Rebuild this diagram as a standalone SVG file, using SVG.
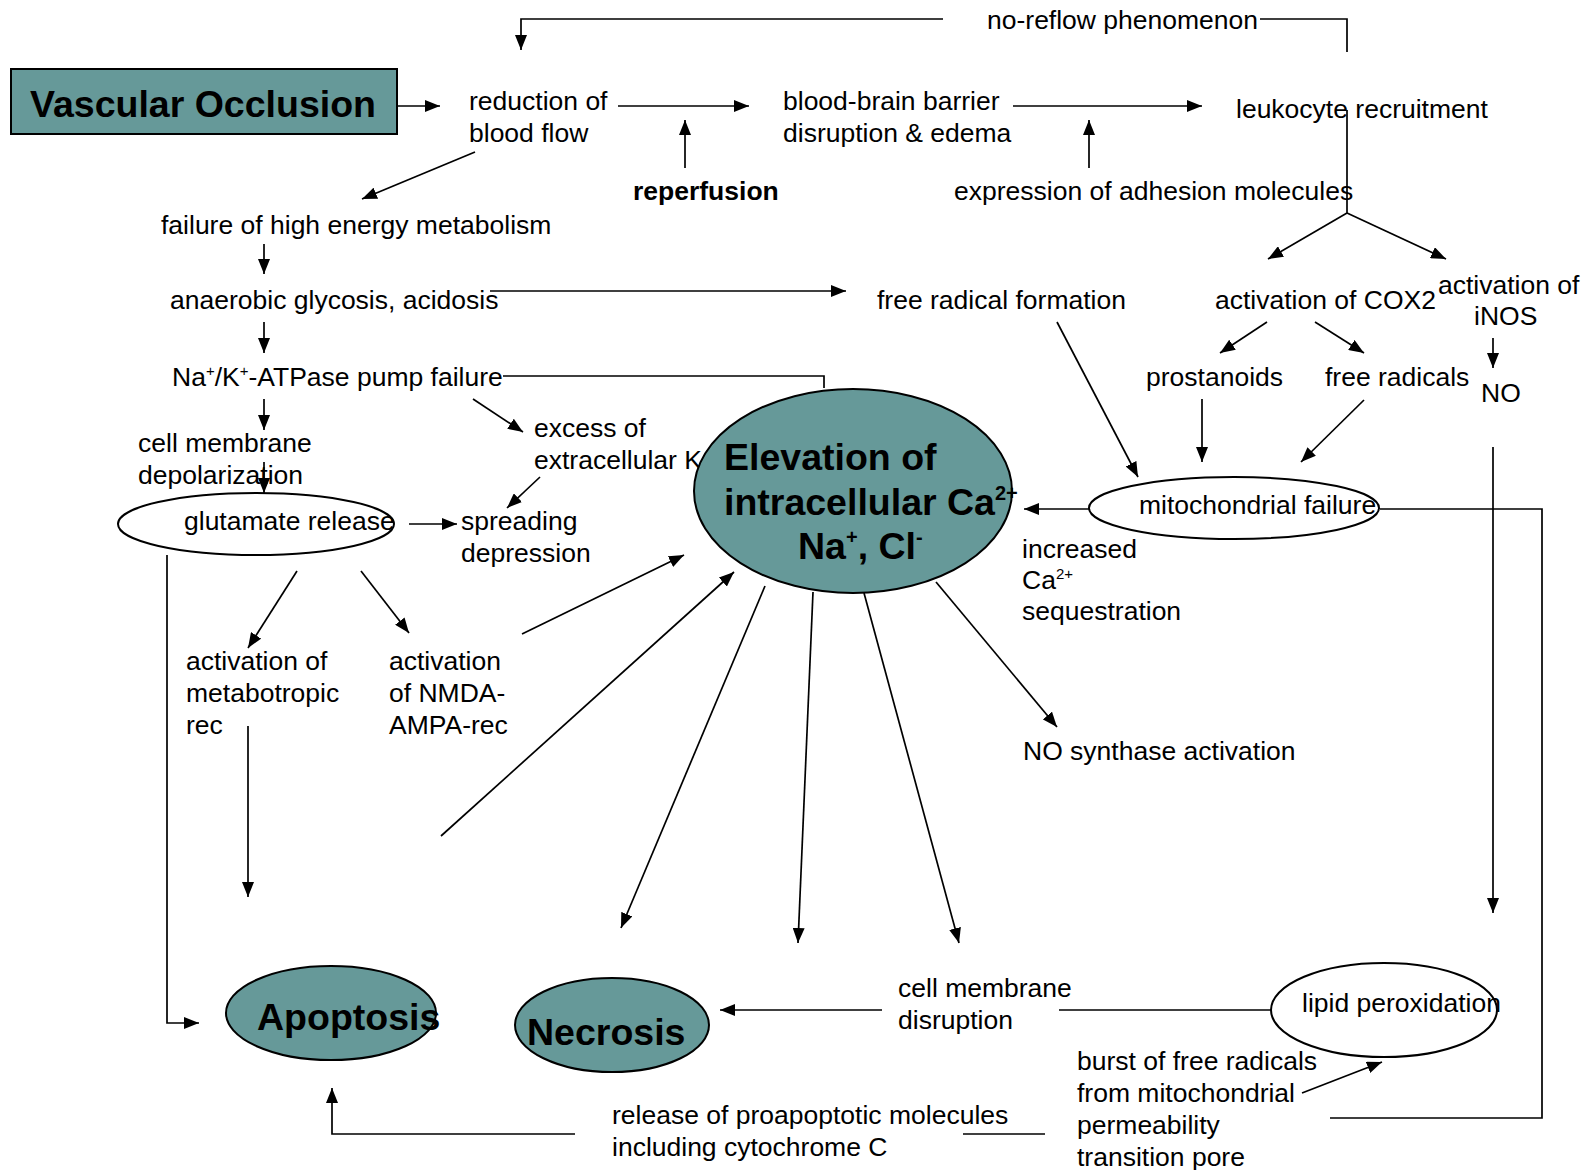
<svg xmlns="http://www.w3.org/2000/svg" width="1583" height="1170" viewBox="0 0 1583 1170">
<style>
text{font-family:"Liberation Sans",Arial,sans-serif;font-size:26.5px;fill:#000}
.b{font-weight:bold;font-size:37.5px}
.rb{font-weight:bold}
.sup{font-size:15px}
.c{fill:none;stroke:#000;stroke-width:1.7}
.a{marker-end:url(#ah)}
.teal{fill:#669999;stroke:#000;stroke-width:2}
.white{fill:#fff;stroke:#000;stroke-width:2}
</style>
<defs>
<marker id="ah" markerUnits="userSpaceOnUse" markerWidth="15" markerHeight="12" refX="15" refY="6" orient="auto">
<path d="M0,0 L15,6 L0,12 z" fill="#000"/>
</marker>
</defs>
<rect width="1583" height="1170" fill="#fff"/>

<g id="n-vascular"><rect class="teal" x="11" y="69" width="386" height="65"/><text class="b" x="30" y="117">Vascular Occlusion</text></g>
<g id="n-reduction"><text x="469" y="110">reduction of</text><text x="469" y="142">blood flow</text></g>
<g id="n-bbb"><text x="783" y="110">blood-brain barrier</text><text x="783" y="142">disruption &amp; edema</text></g>
<g id="n-leuko"><text x="1236" y="118">leukocyte recruitment</text></g>
<g id="n-noreflow"><text x="987" y="29">no-reflow phenomenon</text></g>
<g id="n-reperf"><text class="rb" x="633" y="200">reperfusion</text></g>
<g id="n-adhesion"><text x="954" y="200">expression of adhesion molecules</text></g>
<g id="n-failure"><text x="161" y="234">failure of high energy metabolism</text></g>
<g id="n-anaerobic"><text x="170" y="309">anaerobic glycosis, acidosis</text></g>
<g id="n-freeradform"><text x="877" y="309">free radical formation</text></g>
<g id="n-cox2"><text x="1215" y="309">activation of COX2</text></g>
<g id="n-inos"><text x="1438" y="294">activation of</text><text x="1474" y="325">iNOS</text></g>
<g id="n-pump"><text x="172" y="386">Na<tspan class="sup" dy="-10">+</tspan><tspan dy="10">/K</tspan><tspan class="sup" dy="-10">+</tspan><tspan dy="10">-ATPase pump failure</tspan></text></g>
<g id="n-prostanoids"><text x="1146" y="386">prostanoids</text></g>
<g id="n-freerad"><text x="1325" y="386">free radicals</text></g>
<g id="n-no"><text x="1481" y="402">NO</text></g>
<g id="n-depol"><text x="138" y="452">cell membrane</text><text x="138" y="484">depolarization</text></g>
<g id="n-excess"><text x="534" y="437">excess of</text><text x="534" y="469">extracellular K</text></g>
<g id="n-glutamate"><ellipse class="white" cx="256" cy="524" rx="138" ry="31" style="fill:none"/><text x="184" y="530">glutamate release</text></g>
<g id="n-spreading"><text x="461" y="530">spreading</text><text x="461" y="562">depression</text></g>
<g id="n-elevation"><ellipse class="teal" cx="853" cy="491" rx="159" ry="102"/><text class="b" x="724" y="470">Elevation of</text><text class="b" x="724" y="515">intracellular Ca<tspan style="font-size:20px" dy="-15">2+</tspan></text><text class="b" x="798" y="559">Na<tspan style="font-size:20px" dy="-15">+</tspan><tspan dy="15">, Cl</tspan><tspan style="font-size:20px" dy="-15">-</tspan></text></g>
<g id="n-mito"><ellipse class="white" cx="1234" cy="508" rx="145" ry="31"/><text x="1139" y="514">mitochondrial failure</text></g>
<g id="n-increased"><text x="1022" y="558">increased</text><text x="1022" y="589">Ca<tspan class="sup" dy="-10">2+</tspan></text><text x="1022" y="620">sequestration</text></g>
<g id="n-metabo"><text x="186" y="670">activation of</text><text x="186" y="702">metabotropic</text><text x="186" y="734">rec</text></g>
<g id="n-nmda"><text x="389" y="670">activation</text><text x="389" y="702">of NMDA-</text><text x="389" y="734">AMPA-rec</text></g>
<g id="n-nos"><text x="1023" y="760">NO synthase activation</text></g>
<g id="n-apoptosis"><ellipse class="teal" cx="331" cy="1013" rx="105" ry="47"/><text class="b" x="257" y="1030">Apoptosis</text></g>
<g id="n-necrosis"><ellipse class="teal" cx="612" cy="1025" rx="97" ry="47"/><text class="b" x="527" y="1045">Necrosis</text></g>
<g id="n-cmdisrupt"><text x="898" y="997">cell membrane</text><text x="898" y="1029">disruption</text></g>
<g id="n-lipid"><ellipse class="white" cx="1384" cy="1010" rx="113" ry="47"/><text x="1302" y="1012">lipid peroxidation</text></g>
<g id="n-burst"><text x="1077" y="1070">burst of free radicals</text><text x="1077" y="1102">from mitochondrial</text><text x="1077" y="1134">permeability</text><text x="1077" y="1166">transition pore</text></g>
<g id="n-release"><text x="612" y="1124">release of proapoptotic molecules</text><text x="612" y="1156">including cytochrome C</text></g>

<g id="connectors">
<path class="c a" d="M397,106 H440"/>
<path class="c a" d="M618,106 H749"/>
<path class="c a" d="M1013,106 H1202"/>
<path class="c a" d="M943,19 H521 V50"/>
<path class="c" d="M1260,19 H1347 V52"/>
<path class="c a" d="M685,168 V120"/>
<path class="c a" d="M1089,168 V120"/>
<path class="c a" d="M475,152 L362,199"/>
<path class="c" d="M1347,110 V213"/>
<path class="c a" d="M1347,213 L1268,259"/>
<path class="c a" d="M1347,213 L1446,259"/>
<path class="c a" d="M264,244 V274"/>
<path class="c a" d="M490,291 H846"/>
<path class="c a" d="M264,322 V353"/>
<path class="c" d="M503,376 H824 V388"/>
<path class="c a" d="M264,399 V430"/>
<path class="c a" d="M473,399 L523,432"/>
<path class="c a" d="M264,462 V493"/>
<path class="c a" d="M409,524 H457"/>
<path class="c a" d="M540,477 L507,508"/>
<path class="c a" d="M1267,322 L1220,353"/>
<path class="c a" d="M1315,322 L1364,353"/>
<path class="c a" d="M1493,338 V368"/>
<path class="c a" d="M1202,399 V462"/>
<path class="c a" d="M1364,400 L1301,462"/>
<path class="c a" d="M1057,322 L1138,477"/>
<path class="c a" d="M1089,509 H1024"/>
<path class="c" d="M1380,509 H1542 V1118 H1330"/>
<path class="c a" d="M1493,447 V913"/>
<path class="c a" d="M167,555 V1023 H199"/>
<path class="c a" d="M297,571 L248,648"/>
<path class="c a" d="M361,571 L409,633"/>
<path class="c a" d="M248,726 V897"/>
<path class="c a" d="M522,634 L684,555"/>
<path class="c a" d="M441,836 L734,572"/>
<path class="c a" d="M765,586 L621,928"/>
<path class="c a" d="M813,592 L798,943"/>
<path class="c a" d="M864,593 L959,943"/>
<path class="c a" d="M936,582 L1057,727"/>
<path class="c a" d="M882,1010 H720"/>
<path class="c" d="M1059,1010 H1271"/>
<path class="c a" d="M575,1134 H332 V1088"/>
<path class="c" d="M963,1134 H1045"/>
<path class="c a" d="M1302,1093 L1382,1062"/>
</g>
</svg>
